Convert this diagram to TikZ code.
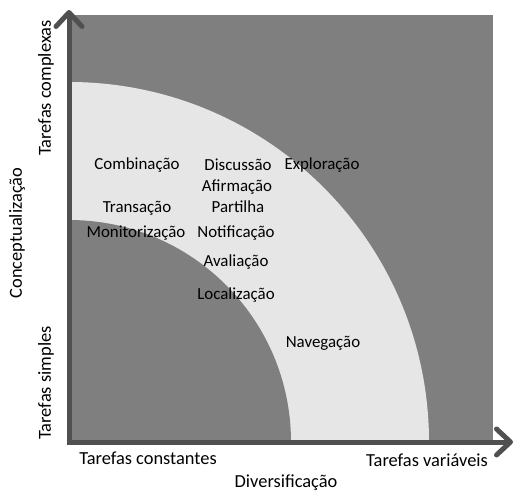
\documentclass[tikz,border=0pt]{standalone}
\usepackage{fontspec}
\setmainfont{Carlito}
\usetikzlibrary{arrows.meta}
\definecolor{bggray}{HTML}{7F7F7F}
\definecolor{band}{HTML}{E6E6E6}
\definecolor{axisgray}{HTML}{505050}
\begin{document}
\begin{tikzpicture}[x=1pt,y=1pt,
  lbl/.style={font=\fontsize{16.9}{19}\selectfont, inner sep=0pt, text=black},
  axlbl/.style={font=\fontsize{18.4}{20}\selectfont, inner sep=0pt, text=black},
  axisline/.style={draw=axisgray, line width=5pt, -{Straight Barb[length=14pt,width=26pt,round]}}]
\useasboundingbox (0,0) rectangle (515,491);
\fill[white] (0,0) rectangle (515,491);
\coordinate (O) at (69,49);
% background region
\begin{scope}
  \clip (70,51) rectangle (493,476);
  \fill[bggray] (70,51) rectangle (493,476);
  \fill[band] (O) circle[radius=360];
  \fill[bggray] (O) circle[radius=222];
\end{scope}
% axes
\coordinate (ytip) at (69,481);
\coordinate (xtip) at (513,49);
\coordinate (ybot) at (69,46.5);
\coordinate (xstart) at (66.5,49);
\draw[axisline] (ybot) -- (ytip);
\draw[axisline] (xstart) -- (xtip);
% labels in the plot
\node[lbl] (comb) at (137,326) {Combinação};
\node[lbl] (disc) at (238,326) {Discussão};
\node[lbl] (expl) at (322,326) {Exploração};
\node[lbl] (afir) at (237,304) {Afirmação};
\node[lbl] (tran) at (137,283) {Transação};
\node[lbl] (part) at (238,284) {Partilha};
\node[lbl] (moni) at (136,258) {Monitorização};
\node[lbl] (noti) at (236,258) {Notificação};
\node[lbl] (aval) at (236,229) {Avaliação};
\node[lbl] (loca) at (236,196) {Localização};
\node[lbl] (nave) at (323,148) {Navegação};
% axis labels
\node[axlbl] (tvar) at (427,31) {Tarefas variáveis};
\node[axlbl] (tcon) at (148,33) {Tarefas constantes};
\node[axlbl] (dive) at (286,8) {Diversificação};
\node[axlbl, rotate=90] (tcom) at (46,403) {Tarefas complexas};
\node[axlbl, rotate=90] (conc) at (17,258) {Conceptualização};
\node[axlbl, rotate=90] (tsim) at (46,108) {Tarefas simples};
\end{tikzpicture}
\end{document}
